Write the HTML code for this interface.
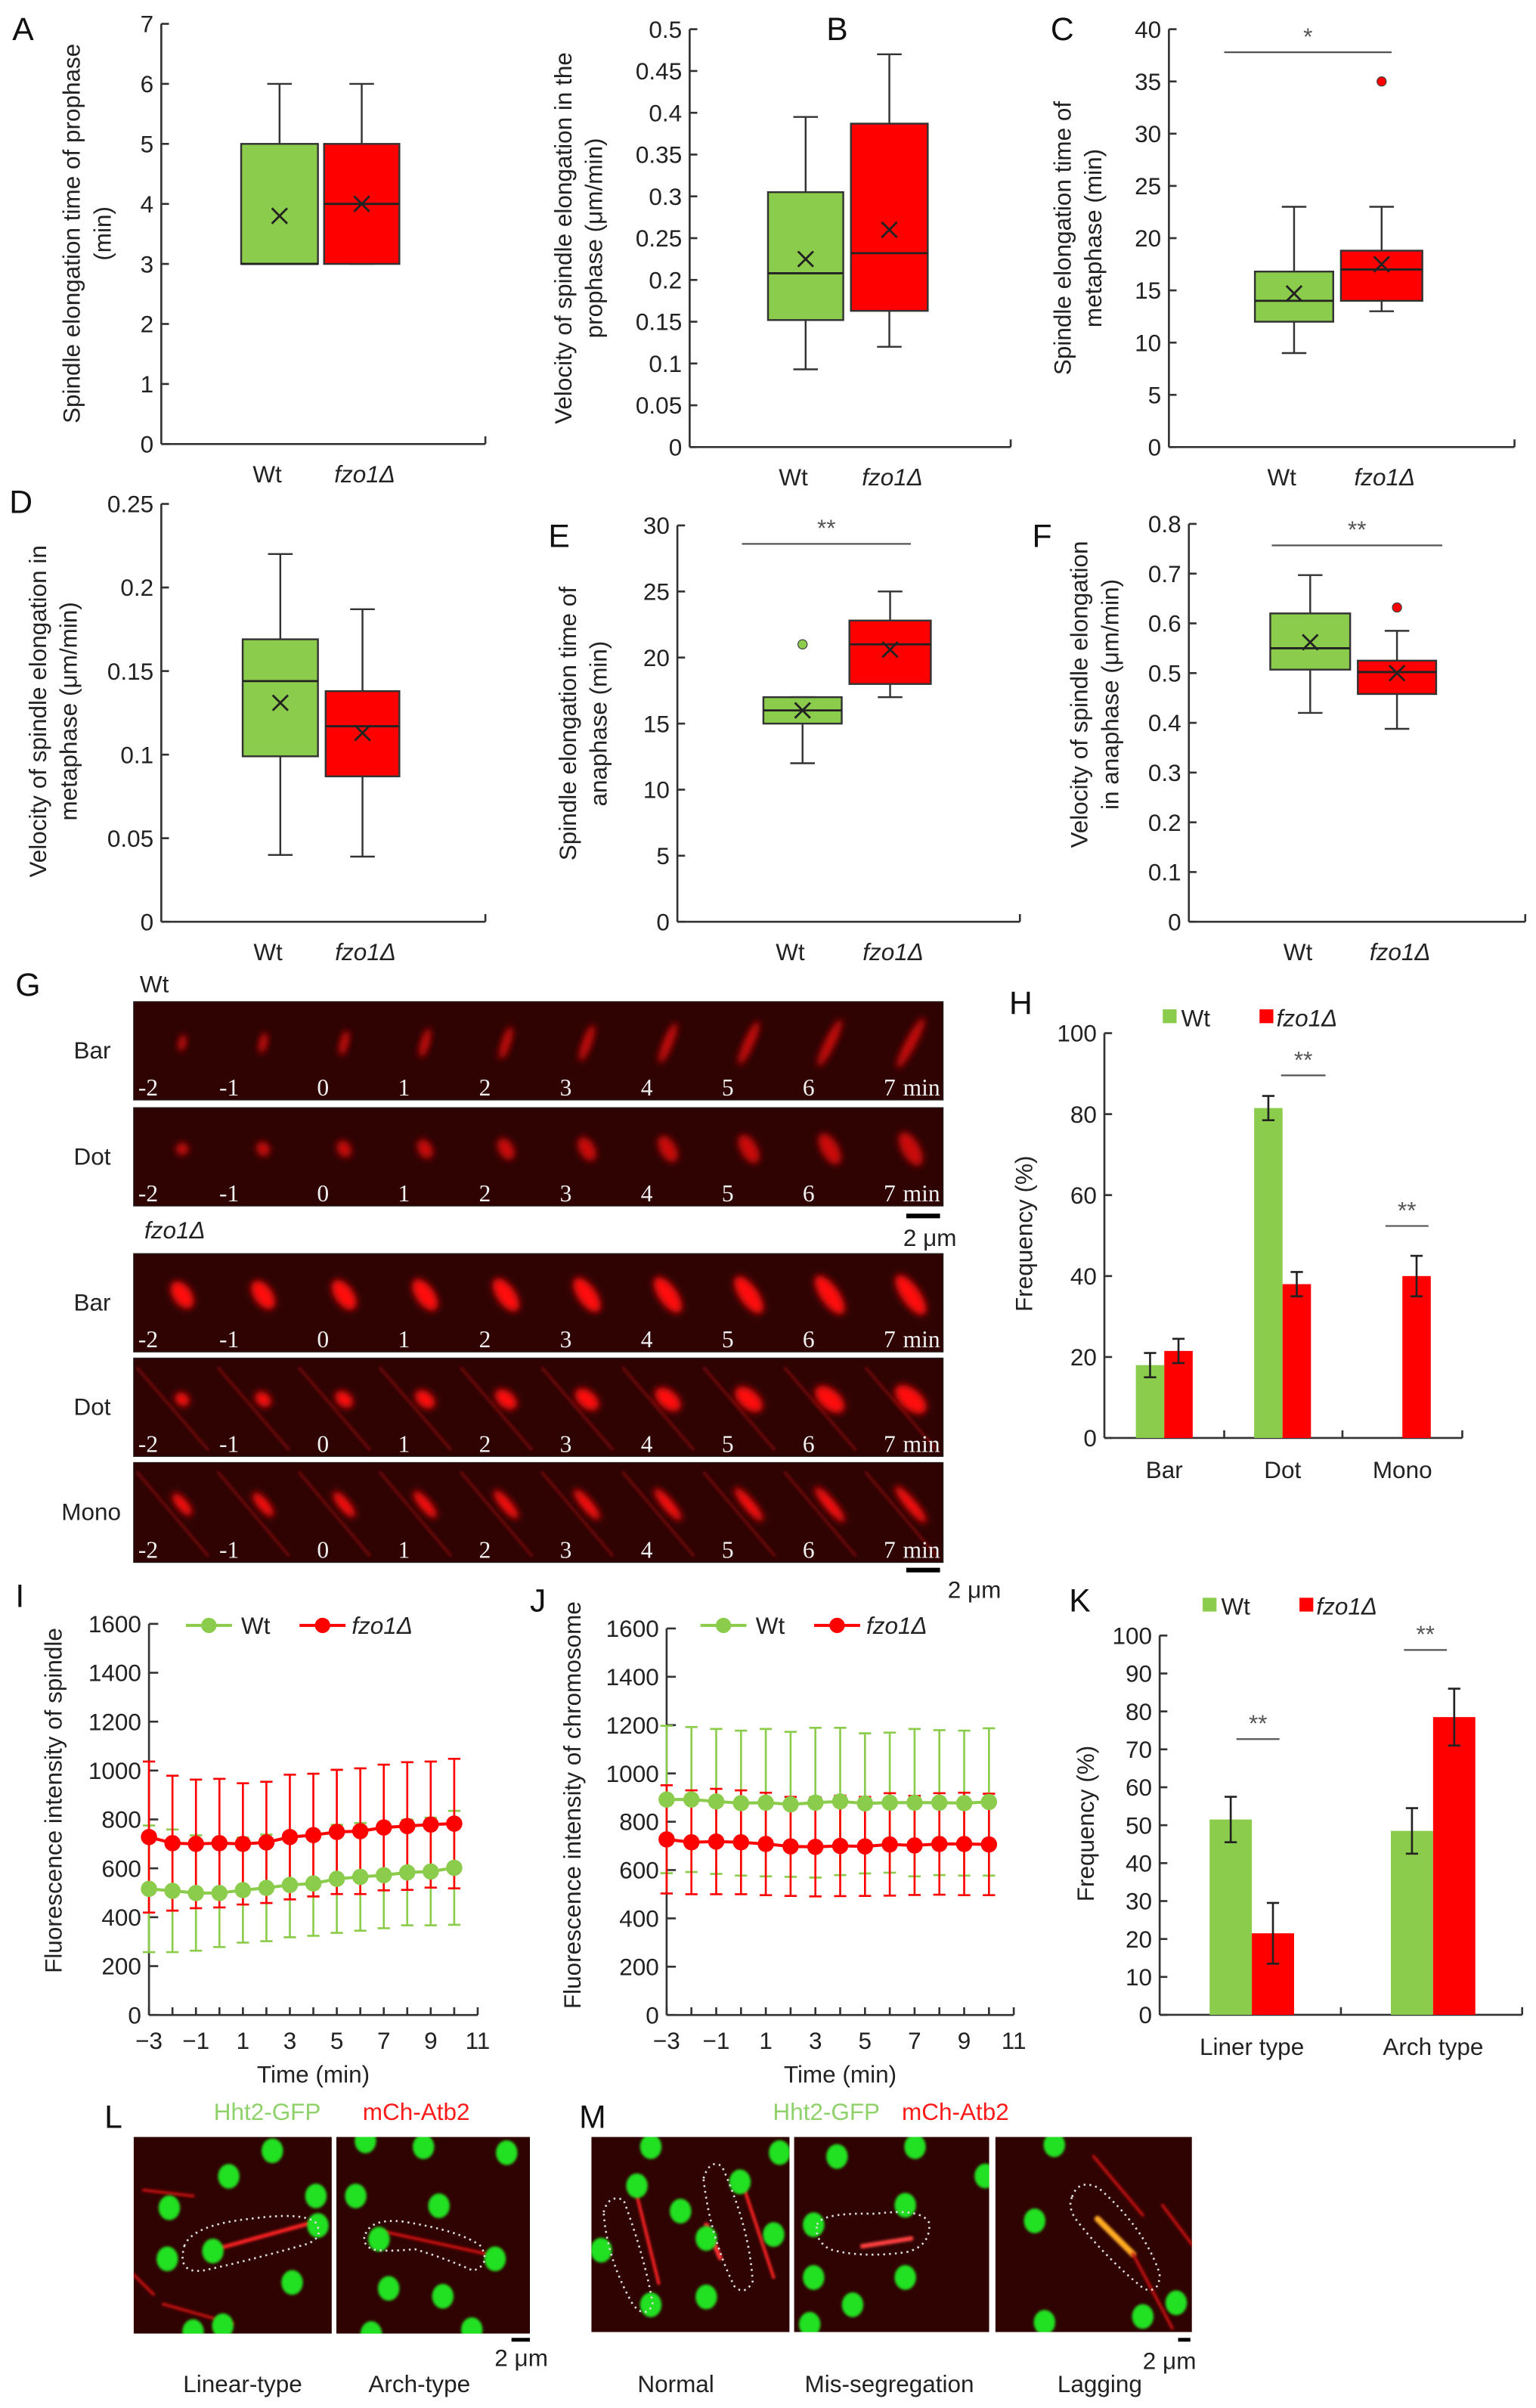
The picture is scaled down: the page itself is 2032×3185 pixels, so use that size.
<!DOCTYPE html>
<html><head><meta charset="utf-8">
<style>
html,body{margin:0;padding:0;background:#fff;}
svg{display:block;font-family:"Liberation Sans",Arial,sans-serif;}
.tk{font-size:15.5px;}
.tt{font-size:15.5px;}
.lt{font-size:21px;}
.ax{stroke:#333;stroke-width:1.3;fill:none;}
</style></head>
<body>
<svg id="fig" width="2032" height="3185" viewBox="0 0 1000 1567.4" xmlns="http://www.w3.org/2000/svg">
<defs>
<filter id="bl" x="-50%" y="-50%" width="200%" height="200%"><feGaussianBlur stdDeviation="2.2"/></filter>
<filter id="bl2" x="-50%" y="-50%" width="200%" height="200%"><feGaussianBlur stdDeviation="0.8"/></filter>
</defs>
<g id="root"></g>
</svg>
<script>
// ---------- DATA ----------
// box stats: [min, q1, median, q3, max, mean]
const boxCats = ['Wt', 'fzo1Δ'];
const aWt = [3, 3, 3, 5, 6, 3.8];
const aFz = [3, 3, 4, 5, 6, 4.0];
const bWt = [0.093, 0.152, 0.208, 0.305, 0.395, 0.225];
const bFz = [0.12, 0.163, 0.232, 0.387, 0.47, 0.26];
const cWt = [9, 12, 14, 16.8, 23, 14.7];
const cFz = [13, 14, 17, 18.8, 23, 17.5];
const cFzOut = [35];
const dWt = [0.04, 0.099, 0.144, 0.169, 0.22, 0.131];
const dFz = [0.039, 0.087, 0.117, 0.138, 0.187, 0.113];
const eWt = [12, 15, 16, 17, 17, 16];
const eWtOut = [21];
const eFz = [17, 18, 21, 22.8, 25, 20.6];
const fWt = [0.42, 0.507, 0.55, 0.62, 0.697, 0.562];
const fFz = [0.388, 0.458, 0.502, 0.525, 0.585, 0.5];
const fFzOut = [0.632];

const hCats = ['Bar', 'Dot', 'Mono'];
const hWt = [18, 81.5, 0];
const hWtErr = [3, 3, 0];
const hFz = [21.5, 38, 40];
const hFzErr = [3, 3, 5];

const timeVals = [-3, -2, -1, 0, 1, 2, 3, 4, 5, 6, 7, 8, 9, 10];
const xTickLabels = ['−3', '−1', '1', '3', '5', '7', '9', '11'];
const iWt = [516, 508, 499, 499, 511, 520, 532, 538, 557, 565, 572, 583, 587, 602];
const iWtErr = [259, 251, 236, 221, 215, 218, 214, 214, 221, 220, 217, 216, 220, 233];
const iFz = [728, 703, 700, 703, 700, 706, 728, 736, 749, 752, 767, 773, 779, 783];
const iFzErr = [309, 276, 263, 263, 248, 248, 255, 251, 254, 257, 257, 261, 258, 265];
const jWt = [892, 892, 884, 877, 879, 872, 879, 884, 876, 879, 879, 879, 877, 882];
const jWtErr = [305, 300, 300, 300, 305, 300, 310, 305, 290, 290, 305, 300, 300, 305];
const jFz = [727, 715, 718, 715, 708, 698, 696, 700, 698, 706, 702, 708, 708, 706];
const jFzErr = [224, 215, 218, 215, 212, 205, 205, 208, 205, 212, 205, 210, 212, 210];

const kCats = ['Liner type', 'Arch type'];
const kWt = [51.5, 48.5];
const kWtErr = [6, 6];
const kFz = [21.5, 78.5];
const kFzErr = [8, 7.5];

// ---------- HELPERS ----------
const NS = 'http://www.w3.org/2000/svg';
const root = document.getElementById('root');
const GREEN = '#8ccc4c', RED = '#ff0000';
function mk(tag, attrs, parent) {
  const e = document.createElementNS(NS, tag);
  for (const k in attrs) e.setAttribute(k, attrs[k]);
  (parent || root).appendChild(e);
  return e;
}
function txt(x, y, s, cls, parent, extra) {
  const t = mk('text', Object.assign({x: x, y: y, class: cls, fill: '#222'}, extra || {}), parent);
  t.textContent = s;
  return t;
}
function linScale(d0, d1, r0, r1) { return v => r0 + (v - d0) / (d1 - d0) * (r1 - r0); }
function group(name) {
  const g = mk('g', {});
  
  
  return g;
}
function yAxis(g, x, y0, y1, ticks, labels, sc, len) {
  const l = mk('line', {x1: x, y1: y0, x2: x, y2: y1, class: 'ax'}, g);
  
  
  ticks.forEach((v, i) => {
    const y = sc(v);
    mk('line', {x1: x, y1: y, x2: x + (len || 5), y2: y, class: 'ax'}, g);
    const t = txt(x - 5, y + 5.5, labels[i], 'tk', g, {'text-anchor': 'end'});
    
    
  });
}
function xAxis(g, x0, x1, y, tickXs) {
  const l = mk('line', {x1: x0, y1: y, x2: x1, y2: y, class: 'ax'}, g);
  
  
  (tickXs || []).forEach(tx => mk('line', {x1: tx, y1: y, x2: tx, y2: y - 5, class: 'ax'}, g));
  mk('line', {x1: x1, y1: y, x2: x1, y2: y - 5, class: 'ax'}, g);
}
function yTitle(g, x, y, lines) {
  lines.forEach((s, i) => {
    const t = txt(0, 0, s, 'tt', g, {'text-anchor': 'middle', transform: 'translate(' + (x + i * 20) + ',' + y + ') rotate(-90)'});
    
    
  });
}
function letter(x, y, s) {
  const t = txt(x, y, s, 'lt', null, {fill: '#111'});
  
  
}
function cross(g, cx, cy) {
  mk('path', {d: 'M' + (cx - 5) + ' ' + (cy - 5) + 'L' + (cx + 5) + ' ' + (cy + 5) + 'M' + (cx + 5) + ' ' + (cy - 5) + 'L' + (cx - 5) + ' ' + (cy + 5), stroke: '#222', 'stroke-width': 1.4}, g);
}
function drawBox(g, st, l, r, sc, fill, name) {
  const cx = (l + r) / 2;
  const bg = mk('g', {}, g);
  
  
  mk('line', {x1: cx, y1: sc(st[4]), x2: cx, y2: sc(st[3]), stroke: '#333', 'stroke-width': 1.2}, bg);
  mk('line', {x1: cx, y1: sc(st[0]), x2: cx, y2: sc(st[1]), stroke: '#333', 'stroke-width': 1.2}, bg);
  mk('line', {x1: cx - 8, y1: sc(st[4]), x2: cx + 8, y2: sc(st[4]), stroke: '#333', 'stroke-width': 1.2}, bg);
  mk('line', {x1: cx - 8, y1: sc(st[0]), x2: cx + 8, y2: sc(st[0]), stroke: '#333', 'stroke-width': 1.2}, bg);
  mk('rect', {x: l, y: sc(st[3]), width: r - l, height: sc(st[1]) - sc(st[3]), fill: fill, stroke: '#333', 'stroke-width': 1.2}, bg);
  mk('line', {x1: l, y1: sc(st[2]), x2: r, y2: sc(st[2]), stroke: '#222', 'stroke-width': 1.4}, bg);
  cross(bg, cx, sc(st[5]));
}
function outliers(g, vals, cx, sc, fill) {
  vals.forEach(v => {
    const c = mk('circle', {cx: cx, cy: sc(v), r: 3, fill: fill, stroke: '#444', 'stroke-width': 0.6}, g);
    
    
  });
}
function sig(g, x0, x1, y, s) {
  mk('line', {x1: x0, y1: y, x2: x1, y2: y, stroke: '#555', 'stroke-width': 1.1}, g);
  const t = txt((x0 + x1) / 2, y - 5, s, 'tk', g, {'text-anchor': 'middle', 'font-size': 13, fill: '#555'});
  
  
}
function catLabels(g, xs, y) {
  boxCats.forEach((c, i) => {
    const t = txt(xs[i], y, c, 'tk', g, {'text-anchor': 'middle', 'font-style': i ? 'italic' : 'normal'});
    
    
  });
}
function fmt(v) { return (Math.round(v * 1000) / 1000).toString(); }
function range(a, b, s) { const o = []; for (let v = a; v <= b + 1e-9; v += s) o.push(Math.round(v * 1000) / 1000); return o; }

function boxPanel(cfg) {
  const g = group(cfg.name);
  const sc = linScale(0, cfg.max, cfg.y0, cfg.yt);
  const ticks = range(0, cfg.max, cfg.step);
  yAxis(g, cfg.ax, cfg.y0, cfg.yt, ticks, ticks.map(fmt), sc);
  xAxis(g, cfg.ax, cfg.xe, cfg.y0);
  drawBox(g, cfg.wt, cfg.b1[0], cfg.b1[1], sc, GREEN, 'box-wt');
  drawBox(g, cfg.fz, cfg.b2[0], cfg.b2[1], sc, RED, 'box-fzo1');
  if (cfg.wtOut) outliers(g, cfg.wtOut, (cfg.b1[0] + cfg.b1[1]) / 2, sc, GREEN);
  if (cfg.fzOut) outliers(g, cfg.fzOut, (cfg.b2[0] + cfg.b2[1]) / 2, sc, RED);
  if (cfg.sig) sig(g, cfg.sig[0], cfg.sig[1], cfg.sig[2], cfg.sig[3]);
  catLabels(g, [(cfg.b1[0] + cfg.b1[1]) / 2 - 8, (cfg.b2[0] + cfg.b2[1]) / 2 + 2], cfg.y0 + 25);
  yTitle(g, cfg.tx, cfg.ty, cfg.title);
}

// ---------- BOX PANELS ----------
letter(8, 26, 'A'); letter(538, 26, 'B'); letter(684, 26, 'C');
letter(6, 334, 'D'); letter(357, 356, 'E'); letter(672, 356, 'F');
boxPanel({name: 'panel-a', ax: 105, y0: 289, yt: 15.5, max: 7, step: 1, xe: 316, wt: aWt, fz: aFz, b1: [157, 207], b2: [211, 260], tx: 52, ty: 152, title: ['Spindle elongation time of prophase', '(min)']});
boxPanel({name: 'panel-b', ax: 449, y0: 291, yt: 19, max: 0.5, step: 0.05, xe: 658, wt: bWt, fz: bFz, b1: [500, 549], b2: [554, 604], tx: 372, ty: 155, title: ['Velocity of spindle elongation in the', 'prophase (μm/min)']});
boxPanel({name: 'panel-c', ax: 761, y0: 291, yt: 19, max: 40, step: 5, xe: 986, wt: cWt, fz: cFz, fzOut: cFzOut, b1: [817, 868], b2: [873, 926], sig: [797, 906, 34, '*'], tx: 697, ty: 155, title: ['Spindle elongation time of', 'metaphase (min)']});
boxPanel({name: 'panel-d', ax: 105, y0: 600, yt: 328, max: 0.25, step: 0.05, xe: 316, wt: dWt, fz: dFz, b1: [158, 207], b2: [212, 260], tx: 30, ty: 463, title: ['Velocity of spindle elongation in', 'metaphase (μm/min)']});
boxPanel({name: 'panel-e', ax: 441, y0: 600, yt: 342, max: 30, step: 5, xe: 664, wt: eWt, fz: eFz, wtOut: eWtOut, b1: [497, 548], b2: [553, 606], sig: [483, 593, 354, '**'], tx: 375, ty: 471, title: ['Spindle elongation time of', 'anaphase (min)']});
boxPanel({name: 'panel-f', ax: 774, y0: 600, yt: 341, max: 0.8, step: 0.1, xe: 993, wt: fWt, fz: fFz, fzOut: fFzOut, b1: [827, 879], b2: [884, 935], sig: [828, 939, 355, '**'], tx: 708, ty: 452, title: ['Velocity of spindle elongation', 'in anaphase (μm/min)']});

// ---------- PANEL G (time-lapse) ----------
letter(10, 648, 'G');
(function () {
  const g = group('panel-g-timelapse');
  txt(91, 646, 'Wt', 'tk', g);
  const fl = txt(94, 806, 'fzo1Δ', 'tk', g, {'font-style': 'italic'});
  
  
  const rows = [
    {lab: 'Bar', y: 652, h: 64, type: 'bar', bright: 0.75},
    {lab: 'Dot', y: 721, h: 64, type: 'dot', bright: 0.75},
    {lab: 'Bar', y: 816, h: 64, type: 'fbar', bright: 1},
    {lab: 'Dot', y: 884, h: 64, type: 'fdot', bright: 1},
    {lab: 'Mono', y: 952, h: 65, type: 'mono', bright: 1}
  ];
  const x0 = 87, x1 = 614, fw = (x1 - x0) / 10;
  rows.forEach((r, ri) => {
    const rg = mk('g', {}, g);
    
    
    txt(r.lab === 'Mono' ? 40 : 48, r.y + r.h / 2 + 5, r.lab, 'tk', rg);
    mk('rect', {x: x0, y: r.y, width: x1 - x0, height: r.h, fill: '#300303'}, rg);
    for (let i = 0; i < 10; i++) {
      const cx = x0 + fw * i + fw * 0.6, cy = r.y + r.h * 0.42;
      const L = 6 + i * 1.6;
      let rx, ry, rot;
      if (r.type === 'bar') { rx = 2.5 + i * 0.1; ry = L * 0.9; rot = 10 + i * 2; }
      else if (r.type === 'dot') { rx = 4 + i * 0.2; ry = 4 + i * 0.9; rot = -30; }
      else if (r.type === 'fbar') { rx = 6; ry = 10 + i * 0.6; rot = -35; }
      else if (r.type === 'fdot') { rx = 4 + i * 0.3; ry = 5 + i * 0.8; rot = -50; }
      else { rx = 3.5; ry = 9 + i * 0.7; rot = -40; }
      if (r.type === 'mono' || r.type === 'fdot') {
        mk('line', {x1: x0 + fw * i + 2, y1: r.y + 6, x2: x0 + fw * i + fw - 4, y2: r.y + r.h - 4, stroke: '#a01010', 'stroke-width': 2, opacity: 0.5, filter: 'url(#bl2)'}, rg);
      }
      mk('ellipse', {cx: cx, cy: cy, rx: rx, ry: ry, fill: '#ff1010', opacity: r.bright, transform: 'rotate(' + rot + ' ' + cx + ' ' + cy + ')', filter: 'url(#bl)'}, rg);
      txt(x0 + fw * i + (i < 2 ? 3 : 14), r.y + r.h - 3, String(i - 2), 'tk', rg, {fill: '#f0f0f0', 'font-family': 'Liberation Serif, serif', 'font-size': 15});
    }
    txt(x1 - 2, r.y + r.h - 3, 'min', 'tk', rg, {fill: '#f0f0f0', 'text-anchor': 'end', 'font-family': 'Liberation Serif, serif', 'font-size': 14});
    mk('rect', {x: x0, y: r.y, width: x1 - x0, height: r.h, fill: 'none', stroke: '#222', 'stroke-width': 0.6}, rg);
  });
  mk('line', {x1: 590, y1: 791.5, x2: 612, y2: 791.5, stroke: '#000', 'stroke-width': 3}, g);
  txt(588, 811, '2 μm', 'tk', g);
  mk('line', {x1: 590, y1: 1022, x2: 612, y2: 1022, stroke: '#000', 'stroke-width': 3}, g);
  txt(617, 1040, '2 μm', 'tk', g);
})();

// ---------- BAR PANELS ----------
function barPanel(cfg) {
  const g = group(cfg.name);
  const sc = linScale(0, 100, cfg.y0, cfg.yt);
  const ticks = range(0, 100, cfg.step);
  yAxis(g, cfg.ax, cfg.y0, cfg.yt, ticks, ticks.map(String), sc);
  xAxis(g, cfg.ax, cfg.xe, cfg.y0, cfg.sepX);
  cfg.cats.forEach((c, i) => {
    const gx = cfg.gx[i];
    [[cfg.wt, cfg.wtE, GREEN, gx - cfg.bw, 'bar-wt-'], [cfg.fz, cfg.fzE, RED, gx, 'bar-fzo1-']].forEach(s => {
      const v = s[0][i], e = s[1][i];
      if (v <= 0) return;
      const b = mk('rect', {x: s[3], y: sc(v), width: cfg.bw, height: cfg.y0 - sc(v), fill: s[2]}, g);
      
      
      const cx = s[3] + cfg.bw / 2;
      mk('path', {d: 'M' + cx + ' ' + sc(v + e) + 'V' + sc(v - e) + 'M' + (cx - 4) + ' ' + sc(v + e) + 'H' + (cx + 4) + 'M' + (cx - 4) + ' ' + sc(v - e) + 'H' + (cx + 4), stroke: '#222', 'stroke-width': 1.3, fill: 'none'}, g);
    });
    const t = txt(gx, cfg.y0 + 26, c, 'tk', g, {'text-anchor': 'middle'});
    
    
  });
  cfg.sigs.forEach(s => sig(g, s[0], s[1], s[2], '**'));
  yTitle(g, cfg.tx, cfg.ty, ['Frequency (%)']);
  const lg = mk('g', {}, g);
  
  
  mk('rect', {x: cfg.lg[0], y: cfg.lg[1] - 11, width: 9, height: 9, fill: GREEN}, lg);
  txt(cfg.lg[0] + 12, cfg.lg[1], 'Wt', 'tk', lg);
  mk('rect', {x: cfg.lg[2], y: cfg.lg[1] - 11, width: 9, height: 9, fill: RED}, lg);
  txt(cfg.lg[2] + 11, cfg.lg[1], 'fzo1Δ', 'tk', lg, {'font-style': 'italic'});
}
letter(657, 660, 'H');
barPanel({name: 'panel-h', ax: 719, y0: 936, yt: 672.5, step: 20, xe: 952, sepX: [797, 874], cats: hCats, gx: [758, 835, 913], bw: 18.5, wt: hWt, wtE: hWtErr, fz: hFz, fzE: hFzErr, sigs: [[834, 863, 700], [902, 930, 798]], tx: 672, ty: 803, lg: [757, 668, 820]});
letter(696, 1049, 'K');
barPanel({name: 'panel-k', ax: 755, y0: 1311.5, yt: 1064.6, step: 10, xe: 991, sepX: [873], cats: kCats, gx: [815, 933], bw: 27.5, wt: kWt, wtE: kWtErr, fz: kFz, fzE: kFzErr, sigs: [[805, 833, 1132], [914, 942, 1074]], tx: 712, ty: 1187, lg: [783, 1051, 846]});

// ---------- LINE PANELS ----------
function linePanel(cfg) {
  const g = group(cfg.name);
  const sy = linScale(0, 1600, cfg.y0, cfg.yt);
  const sx = linScale(-3, 11, cfg.ax, cfg.xe);
  const ticks = range(0, 1600, 200);
  yAxis(g, cfg.ax, cfg.y0, cfg.yt, ticks, ticks.map(String), sy, 6);
  xAxis(g, cfg.ax, cfg.xe, cfg.y0, timeVals.map(sx));
  xTickLabels.forEach((s, i) => {
    const t = txt(sx(-3 + 2 * i), cfg.y0 + 22, s, 'tk', g, {'text-anchor': 'middle'});
    
    
  });
  const xt = txt(sx(4), cfg.y0 + 44, 'Time (min)', 'tk', g, {'text-anchor': 'middle'});
  
  
  yTitle(g, cfg.tx, cfg.ty, [cfg.title]);
  [[cfg.wt, cfg.wtE, GREEN, 'series-wt'], [cfg.fz, cfg.fzE, RED, 'series-fzo1']].forEach(s => {
    const sg = mk('g', {}, g);
    
    
    timeVals.forEach((t, i) => {
      const x = sx(t), yu = sy(s[0][i] + s[1][i]), yl = sy(s[0][i] - s[1][i]);
      mk('path', {d: 'M' + x + ' ' + yu + 'V' + yl + 'M' + (x - 4) + ' ' + yu + 'H' + (x + 4) + 'M' + (x - 4) + ' ' + yl + 'H' + (x + 4), stroke: s[2], 'stroke-width': 1.3, fill: 'none'}, sg);
    });
  });
  [[cfg.wt, GREEN, 'line-wt'], [cfg.fz, RED, 'line-fzo1']].forEach(s => {
    const pts = timeVals.map((t, i) => sx(t) + ',' + sy(s[0][i])).join(' ');
    const pl = mk('polyline', {points: pts, fill: 'none', stroke: s[1], 'stroke-width': 2}, g);
    
    
    timeVals.forEach((t, i) => {
      const c = mk('circle', {cx: sx(t), cy: sy(s[0][i]), r: 5.3, fill: s[1]}, g);
      
      
    });
  });
  const lg = mk('g', {}, g);
  
  
  const L = cfg.lg;
  mk('line', {x1: L[0], y1: L[1], x2: L[0] + 30, y2: L[1], stroke: GREEN, 'stroke-width': 2}, lg);
  mk('circle', {cx: L[0] + 15, cy: L[1], r: 5, fill: GREEN}, lg);
  txt(L[0] + 36, L[1] + 5.5, 'Wt', 'tk', lg);
  mk('line', {x1: L[2], y1: L[1], x2: L[2] + 30, y2: L[1], stroke: RED, 'stroke-width': 2}, lg);
  mk('circle', {cx: L[2] + 15, cy: L[1], r: 5, fill: RED}, lg);
  txt(L[2] + 34, L[1] + 5.5, 'fzo1Δ', 'tk', lg, {'font-style': 'italic'});
}
letter(10, 1046, 'I'); letter(345, 1049, 'J');
linePanel({name: 'panel-i', ax: 97, y0: 1311.6, yt: 1057, xe: 311, wt: iWt, wtE: iWtErr, fz: iFz, fzE: iFzErr, tx: 40, ty: 1172, title: 'Fluorescence intensity of spindle', lg: [121, 1058, 195]});
linePanel({name: 'panel-j', ax: 434, y0: 1311.6, yt: 1060, xe: 660, wt: jWt, wtE: jWtErr, fz: jFz, fzE: jFzErr, tx: 378, ty: 1175, title: 'Fluorescence intensity of chromosome', lg: [456, 1058, 530]});

// ---------- PANELS L / M (micrographs) ----------
function micro(x, y, w, h, nuclei, spindles, outline, name) {
  const g = group(name);
  const cp = 'cp' + name;
  const cl = mk('clipPath', {id: cp}, g);
  mk('rect', {x: x, y: y, width: w, height: h}, cl);
  const ig = mk('g', {'clip-path': 'url(#' + cp + ')'}, g);
  mk('rect', {x: x, y: y, width: w, height: h, fill: '#300303'}, ig);
  spindles.forEach(s => mk('line', {x1: x + s[0] * w, y1: y + s[1] * h, x2: x + s[2] * w, y2: y + s[3] * h, stroke: s[4] || '#c01010', 'stroke-width': s[5] || 2, 'stroke-linecap': 'round', filter: 'url(#bl2)'}, ig));
  nuclei.forEach(n => mk('ellipse', {cx: x + n[0] * w, cy: y + n[1] * h, rx: n[2] || 7, ry: (n[2] || 7) * 1.15, fill: '#22e022', filter: 'url(#bl2)'}, ig));
  if (outline) mk('path', {d: outline, fill: 'none', stroke: '#ddd', 'stroke-width': 1.3, 'stroke-dasharray': '1.2 2.6'}, ig);
}
letter(68, 1385, 'L'); letter(377, 1385, 'M');
txt(174, 1380, 'Hht2-GFP', 'tk', null, {'text-anchor': 'middle', fill: '#8fd16a'});
txt(271, 1380, 'mCh-Atb2', 'tk', null, {'text-anchor': 'middle', fill: '#ff1a1a'});
txt(538, 1380, 'Hht2-GFP', 'tk', null, {'text-anchor': 'middle', fill: '#8fd16a'});
txt(622, 1380, 'mCh-Atb2', 'tk', null, {'text-anchor': 'middle', fill: '#ff1a1a'});
micro(87, 1391, 129, 128, [[0.7, 0.07], [0.48, 0.2], [0.18, 0.36], [0.92, 0.3], [0.17, 0.62], [0.4, 0.58], [0.93, 0.45], [0.8, 0.74], [0.45, 0.96], [0.3, 0.99]], [[0.38, 0.58, 0.92, 0.43, '#ff2020', 2.5], [0.05, 0.27, 0.3, 0.3], [0.0, 0.7, 0.1, 0.8], [0.15, 0.85, 0.5, 0.95]], 'M120 1462 Q125 1448 165 1444 Q195 1440 205 1446 Q213 1458 195 1462 Q160 1472 132 1478 Q115 1480 120 1462Z', 'micrograph-linear-type');
micro(219, 1391, 126, 128, [[0.15, 0.02], [0.45, 0.05], [0.88, 0.08], [0.1, 0.3], [0.53, 0.35], [0.22, 0.52], [0.82, 0.62], [0.27, 0.77], [0.55, 0.81], [0.7, 0.98], [0.18, 1.0]], [[0.24, 0.48, 0.8, 0.6, '#d01010', 2]], 'M238 1454 Q242 1444 262 1446 Q300 1452 313 1462 Q320 1474 308 1478 Q290 1470 270 1464 Q250 1466 242 1464 Q235 1460 238 1454Z', 'micrograph-arch-type');
micro(385, 1391, 129, 127, [[0.3, 0.05], [0.05, 0.58], [0.23, 0.25], [0.45, 0.38], [0.75, 0.23], [0.58, 0.52], [0.92, 0.5], [0.3, 0.86], [0.58, 0.82], [0.95, 0.08]], [[0.23, 0.3, 0.34, 0.75, '#ff2020', 2], [0.76, 0.23, 0.92, 0.72, '#ff2020', 2], [0.58, 0.45, 0.65, 0.62, '#ff3030', 3]], 'M393 1440 Q396 1428 406 1432 Q420 1470 425 1500 Q420 1510 412 1500 Q395 1470 393 1440Z M458 1418 Q462 1405 470 1410 Q488 1450 490 1485 Q485 1495 478 1488 Q462 1455 458 1418Z', 'micrograph-normal');
micro(517, 1391, 127, 127, [[0.62, 0.05], [0.1, 0.45], [0.98, 0.2], [0.22, 0.1], [0.57, 0.35], [0.1, 0.72], [0.57, 0.72], [0.3, 0.86], [0.08, 0.96]], [[0.35, 0.56, 0.6, 0.52, '#ff4040', 3]], 'M532 1448 Q535 1440 570 1441 Q600 1437 605 1447 Q606 1462 590 1466 Q560 1470 540 1464 Q530 1458 532 1448Z', 'micrograph-mis-segregation');
micro(648, 1391, 128, 127, [[0.3, 0.04], [0.2, 0.43], [0.25, 0.95], [0.75, 0.92], [0.92, 0.85]], [[0.52, 0.42, 0.7, 0.6, '#ffaa20', 4], [0.5, 0.1, 0.75, 0.4], [0.7, 0.6, 0.9, 0.98], [0.85, 0.35, 1.0, 0.55]], 'M698 1430 Q702 1418 715 1424 Q745 1450 755 1480 Q755 1493 745 1490 Q720 1470 700 1444 Q695 1436 698 1430Z', 'micrograph-lagging');
mk('line', {x1: 333, y1: 1523, x2: 345, y2: 1523, stroke: '#000', 'stroke-width': 2.5});
txt(322, 1540, '2 μm', 'tk');
mk('line', {x1: 767, y1: 1523, x2: 775, y2: 1523, stroke: '#000', 'stroke-width': 2.5});
txt(744, 1542, '2 μm', 'tk');
[['Linear-type', 158, 1557], ['Arch-type', 273, 1557], ['Normal', 440, 1557], ['Mis-segregation', 579, 1557], ['Lagging', 716, 1557]].forEach(a => {
  const t = txt(a[1], a[2], a[0], 'tk', null, {'text-anchor': 'middle'});
  
  
});
</script>
</body></html>
